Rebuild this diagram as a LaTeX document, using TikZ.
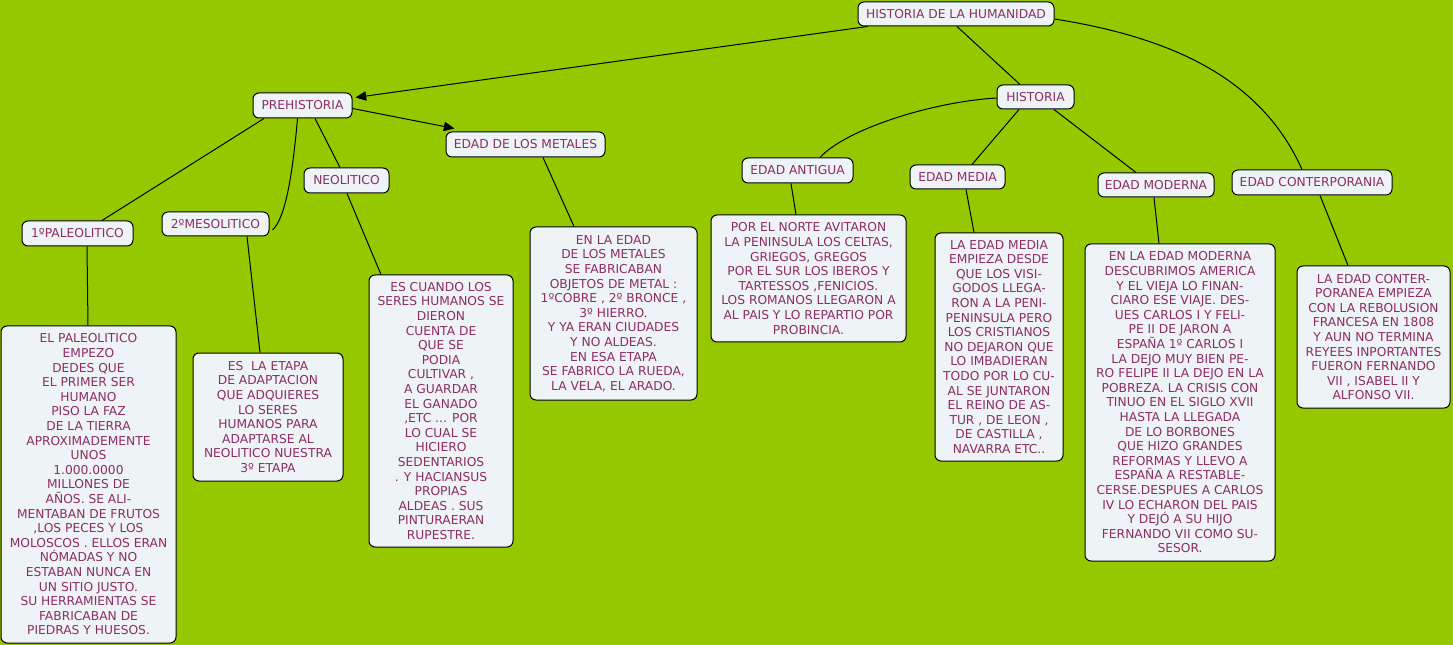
\documentclass[tikz,border=0pt]{standalone}
\usepackage{fontspec}
\setmainfont{DejaVu Sans}
\usetikzlibrary{arrows.meta,calc}
\definecolor{bg}{RGB}{150,200,0}
\definecolor{txt}{RGB}{140,45,100}
\definecolor{boxfill}{RGB}{238,243,246}
\begin{document}
\begin{tikzpicture}[x=0.75pt,y=-0.75pt,
 cbox/.style 2 args={draw=black,fill=boxfill,rounded corners=4.5pt,line width=0.75pt,inner sep=0pt,
   minimum width=#1*0.75pt,minimum height=#2*0.75pt,text=txt,align=center,
   font=\fontsize{9.2}{10.95}\selectfont},
 conn/.style={draw=black,line width=0.75pt},
 arr/.style={conn,-{Triangle[length=8pt,width=7pt]}}]
\fill[bg] (0,0) rectangle (1453,645);
\useasboundingbox (0,0) rectangle (1453,645);

% label nodes
\node[cbox={196}{24}] (hdlh) at (956,14) {HISTORIA DE LA HUMANIDAD};
\node[cbox={77}{24}] (hist) at (1035.5,97) {HISTORIA};
\node[cbox={111}{25}] (antigua) at (797.5,170.5) {EDAD ANTIGUA};
\node[cbox={95}{24}] (media) at (957.5,177) {EDAD MEDIA};
\node[cbox={116}{24}] (moderna) at (1156,185) {EDAD MODERNA};
\node[cbox={160}{25}] (contemp) at (1312,182.5) {EDAD CONTERPORANIA};
\node[cbox={99}{25}] (prehist) at (302.5,105.5) {PREHISTORIA};
\node[cbox={159}{25}] (metales) at (525.5,144.5) {EDAD DE LOS METALES};
\node[cbox={85}{25}] (neo) at (346.5,180.5) {NEOLITICO};
\node[cbox={107}{24}] (meso) at (215.5,224) {2ºMESOLITICO};
\node[cbox={111}{25}] (paleo) at (77.5,233.5) {1ºPALEOLITICO};

% text boxes
\node[cbox={175}{317}] (tpaleo) at (88.5,484.5) {EL PALEOLITICO\\EMPEZO\\DEDES QUE\\EL PRIMER SER\\HUMANO\\PISO LA FAZ\\DE LA TIERRA\\APROXIMADEMENTE\\UNOS\\1.000.0000\\MILLONES DE\\AÑOS. SE ALI-\\MENTABAN DE FRUTOS\\,LOS PECES Y LOS\\MOLOSCOS . ELLOS ERAN\\NÓMADAS Y NO\\ESTABAN NUNCA EN\\UN SITIO JUSTO.\\SU HERRAMIENTAS SE\\FABRICABAN DE\\PIEDRAS Y HUESOS.};
\node[cbox={150}{128}] (tmeso) at (268,417) {ES~ LA ETAPA\\DE ADAPTACION\\QUE ADQUIERES\\LO SERES\\HUMANOS PARA\\ADAPTARSE AL\\NEOLITICO NUESTRA\\3º ETAPA};
\node[cbox={144}{272}] (tneo) at (441,411) {ES CUANDO LOS\\SERES HUMANOS SE\\DIERON\\CUENTA DE\\QUE SE\\PODIA\\CULTIVAR ,\\A GUARDAR\\EL GANADO\\,ETC ... POR\\LO CUAL SE\\HICIERO\\SEDENTARIOS\\. Y HACIANSUS\\PROPIAS\\ALDEAS . SUS\\PINTURAERAN\\RUPESTRE.};
\node[cbox={167}{173}] (tmet) at (613.5,313.5) {EN LA EDAD\\DE LOS METALES\\SE FABRICABAN\\OBJETOS DE METAL :\\1ºCOBRE , 2º BRONCE ,\\3º HIERRO.\\Y YA ERAN CIUDADES\\Y NO ALDEAS.\\EN ESA ETAPA\\SE FABRICO LA RUEDA,\\LA VELA, EL ARADO.};
\node[cbox={195}{127}] (tant) at (808.5,278.5) {POR EL NORTE AVITARON\\LA PENINSULA LOS CELTAS,\\GRIEGOS, GREGOS\\POR EL SUR LOS IBEROS Y\\TARTESSOS ,FENICIOS.\\LOS ROMANOS LLEGARON A\\AL PAIS Y LO REPARTIO POR\\PROBINCIA.};
\node[cbox={128}{228}] (tmed) at (999,347) {LA EDAD MEDIA\\EMPIEZA DESDE\\QUE LOS VISI-\\GODOS LLEGA-\\RON A LA PENI-\\PENINSULA PERO\\LOS CRISTIANOS\\NO DEJARON QUE\\LO IMBADIERAN\\TODO POR LO CU-\\AL SE JUNTARON\\EL REINO DE AS-\\TUR , DE LEON ,\\DE CASTILLA ,\\NAVARRA ETC..};
\node[cbox={190}{317}] (tmod) at (1180,402.5) {EN LA EDAD MODERNA\\DESCUBRIMOS AMERICA\\Y EL VIEJA LO FINAN-\\CIARO ESE VIAJE. DES-\\UES CARLOS I Y FELI-\\PE II DE JARON A\\ESPAÑA 1º CARLOS I\\LA DEJO MUY BIEN PE-\\RO FELIPE II LA DEJO EN LA\\POBREZA. LA CRISIS CON\\TINUO EN EL SIGLO XVII\\HASTA LA LLEGADA\\DE LO BORBONES\\QUE HIZO GRANDES\\REFORMAS Y LLEVO A\\ESPAÑA A RESTABLE-\\CERSE.DESPUES A CARLOS\\IV LO ECHARON DEL PAIS\\Y DEJÓ A SU HIJO\\FERNANDO VII COMO SU-\\SESOR.};
\node[cbox={153}{142}] (tcon) at (1373.5,337) {LA EDAD CONTER-\\PORANEA EMPIEZA\\CON LA REBOLUSION\\FRANCESA EN 1808\\Y AUN NO TERMINA\\REYEES INPORTANTES\\FUERON FERNANDO\\VII , ISABEL II Y\\ALFONSO VII.};

% connectors
\draw[arr] ($(hdlh.south west)+(10,0)$) -- ($(prehist.east)+(3,-8)$);
\draw[arr] ($(prehist.east)+(0,3)$) -- ($(metales.north west)+(9,-3)$);
\draw[conn] ($(hdlh.south)+(1,0)$) -- ($(hist.north)+(-15.5,0)$);
\draw[conn] ($(hdlh.east)+(0,5)$) .. controls (1175,38) and (1262,80) .. ($(contemp.north)+(-10,0)$);
\draw[conn] ($(hist.west)+(0,1)$) .. controls (930,102) and (845,130) .. ($(antigua.north)+(22.5,0)$);
\draw[conn] ($(hist.south)+(-16.5,0)$) -- ($(media.north)+(14.5,0)$);
\draw[conn] ($(hist.south)+(18.5,0)$) -- ($(moderna.north)+(-20,0)$);
\draw[conn] ($(prehist.south)+(-38.5,0)$) -- ($(paleo.north)+(24.5,0)$);
\draw[conn] ($(prehist.south)+(-5,0)$) .. controls (293,170) and (286,218) .. ($(meso.east)+(3,6)$);
\draw[conn] ($(prehist.south)+(12.5,0)$) -- ($(neo.north)+(-6.5,0)$);
\draw[conn] ($(paleo.south)+(9.5,0)$) -- ($(tpaleo.north)+(-0.5,0)$);
\draw[conn] ($(meso.south)+(31.5,0)$) -- ($(tmeso.north)+(-8,0)$);
\draw[conn] ($(neo.south)+(0.5,0)$) -- ($(tneo.north)+(-60,0)$);
\draw[conn] ($(metales.south)+(17.5,0)$) -- ($(tmet.north)+(-39.5,0)$);
\draw[conn] ($(antigua.south)+(-6.5,0)$) -- ($(tant.north)+(-12.5,0)$);
\draw[conn] ($(media.south)+(8.5,0)$) -- ($(tmed.north)+(-25,0)$);
\draw[conn] ($(moderna.south)+(-2,0)$) -- ($(tmod.north)+(-21,0)$);
\draw[conn] ($(contemp.south)+(8,0)$) -- ($(tcon.north)+(-25.5,0)$);
\end{tikzpicture}
\end{document}
